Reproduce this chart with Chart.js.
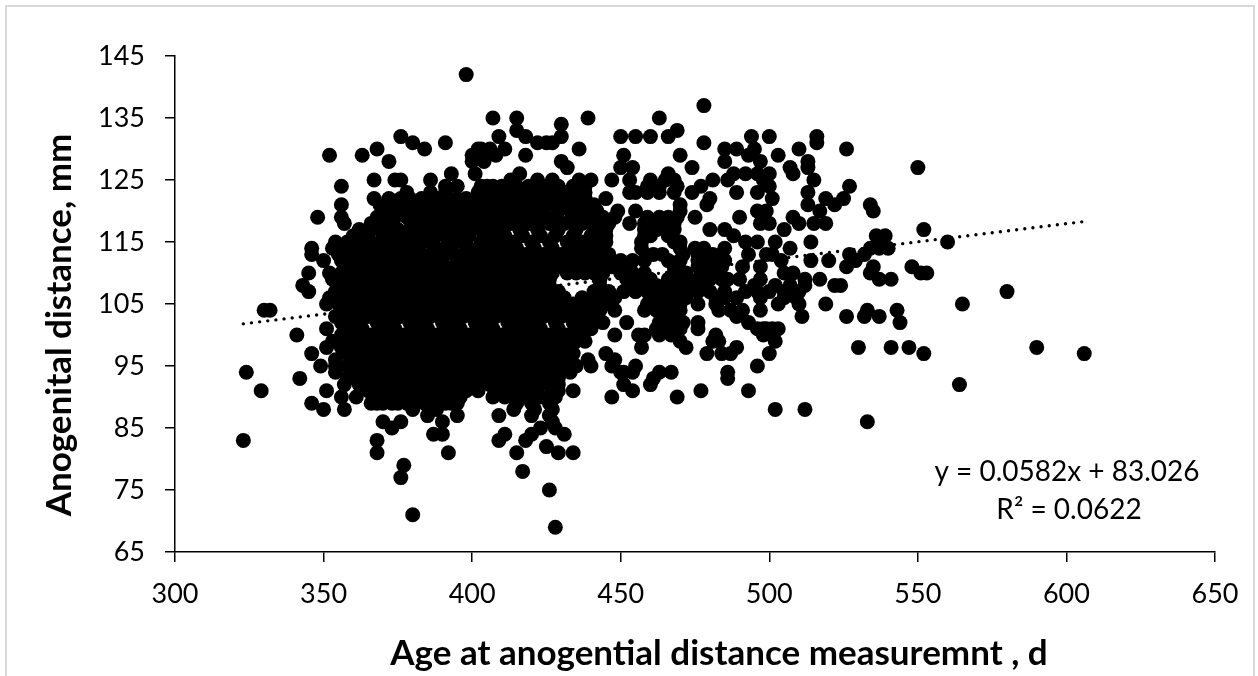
<!DOCTYPE html>
<html>
<head>
<meta charset="utf-8">
<title>Anogenital distance</title>
<script src="https://cdn.jsdelivr.net/npm/chart.js@4"></script>
<style>
  html, body { margin: 0; padding: 0; background: #fff; overflow: hidden; }
  #wrap { position: relative; width: 1258px; height: 676px; overflow: hidden; }
  #frame { position: absolute; left: 5px; top: 5px; width: 1246px; height: 700px; border: 2px solid #d9d9d9; }
  canvas { position: absolute; left: 0; top: 0; }
</style>
</head>
<body>
<div id="wrap">
  <div id="frame"></div>
  <canvas id="chart" width="1258" height="676"></canvas>
</div>
<script>
// axis ticks
const xTicks = [300, 350, 400, 450, 500, 550, 600, 650];
const yTicks = [65, 75, 85, 95, 105, 115, 125, 135, 145];

const distanceLevels = [142, 137, 135, 134, 133, 132, 131, 130, 129, 128, 127, 126, 125, 124, 123, 122, 121, 120, 119, 118, 117, 116, 115, 114, 113, 112, 111, 110, 109, 108, 107, 106, 105, 104, 103, 102, 101, 100, 99, 98, 97, 96, 95, 94, 93, 92, 91, 90, 89, 88, 87, 86, 85, 84, 83, 82, 81, 79, 78, 77, 75, 71, 69];
const agesAtLevel = [
  [398],
  [478],
  [407, 415, 439, 463],
  [430],
  [415, 469],
  [376, 409, 418, 430, 450, 455, 460, 466, 494, 500, 516],
  [380, 391, 422, 425, 427, 478, 516],
  [368, 384, 402, 403, 406, 411, 436, 485, 489, 495, 510, 526],
  [352, 363, 400, 405, 408, 418, 451, 470, 493, 503],
  [372, 400, 404, 430, 485, 497, 513],
  [432, 450, 454, 474, 507, 513, 550],
  [393, 401, 416, 466, 488, 492, 496, 500, 508],
  [367, 374, 376, 386, 413, 422, 427, 436, 440, 447, 453, 460, 465, 468, 481, 486, 498, 515],
  [356, 391, 395, 403, 405, 407, 410, 415, 419, 424, 429, 434, 438, 459, 463, 469, 477, 500, 527],
  [378, 386, 391, 402, 407, 412, 416, 420, 424, 428, 431, 435, 438, 453, 455, 459, 463, 468, 474, 489, 496, 513],
  [367, 372, 376, 379, 383, 388, 392, 395, 398, 403, 408, 412, 416, 420, 424, 428, 434, 438, 445, 480, 501, 519, 525],
  [356, 369, 373, 377, 382, 385, 389, 393, 395, 398, 401, 405, 408, 412, 416, 419, 422, 425, 428, 432, 435, 441, 470, 479, 513, 522, 534],
  [371, 375, 380, 383, 386, 390, 394, 397, 401, 405, 409, 413, 418, 421, 424, 429, 433, 436, 438, 442, 449, 455, 470, 496, 499, 517, 535],
  [348, 356, 368, 371, 374, 378, 383, 387, 391, 397, 400, 404, 408, 411, 415, 418, 421, 424, 428, 436, 440, 444, 448, 459, 463, 466, 469, 475, 490, 508],
  [357, 366, 372, 381, 387, 393, 400, 407, 413, 419, 426, 431, 434, 437, 443, 446, 453, 458, 460, 465, 468, 497, 500, 510, 515, 519],
  [362, 369, 375, 379, 385, 390, 396, 403, 409, 416, 422, 429, 435, 441, 445, 458, 462, 465, 468, 480, 485, 505, 552],
  [360, 365, 371, 377, 383, 388, 394, 399, 405, 411, 417, 423, 428, 434, 440, 445, 458, 460, 466, 488, 536, 539],
  [354, 358, 364, 369, 374, 380, 386, 392, 397, 403, 408, 414, 420, 426, 432, 437, 442, 445, 457, 468, 470, 492, 496, 502, 514, 560],
  [346, 353, 357, 362, 367, 372, 377, 382, 388, 393, 399, 404, 410, 415, 421, 427, 433, 438, 444, 457, 470, 475, 478, 485, 507, 534, 537, 540],
  [346, 355, 360, 365, 370, 375, 381, 386, 391, 397, 402, 407, 413, 418, 424, 430, 435, 441, 446, 461, 464, 471, 476, 481, 484, 493, 499, 501, 527, 532],
  [350, 356, 362, 367, 372, 378, 384, 389, 395, 400, 405, 411, 416, 422, 427, 433, 439, 444, 450, 454, 458, 466, 470, 476, 480, 485, 504, 514, 520, 529],
  [358, 364, 369, 374, 380, 385, 391, 396, 402, 408, 413, 419, 424, 430, 433, 436, 439, 442, 447, 450, 453, 468, 476, 480, 484, 491, 497, 526, 535, 548],
  [345, 352, 356, 361, 366, 371, 377, 382, 388, 393, 399, 404, 410, 415, 421, 427, 432, 435, 438, 441, 444, 450, 454, 458, 468, 472, 478, 482, 505, 508, 534, 551, 553],
  [353, 358, 363, 368, 374, 379, 385, 390, 396, 401, 407, 412, 418, 423, 426, 443, 452, 456, 460, 466, 472, 476, 480, 484, 486, 490, 497, 512, 517, 537, 541],
  [343, 357, 361, 366, 371, 376, 382, 387, 393, 398, 404, 409, 415, 420, 426, 443, 453, 458, 462, 466, 470, 474, 478, 495, 502, 507, 512, 522, 524],
  [345, 354, 359, 364, 369, 374, 379, 384, 390, 395, 401, 406, 412, 417, 423, 429, 441, 446, 451, 455, 459, 464, 468, 472, 476, 480, 485, 492, 496, 500, 505, 510, 580],
  [352, 356, 361, 367, 372, 377, 382, 388, 393, 398, 404, 409, 414, 420, 426, 431, 437, 443, 448, 462, 466, 470, 472, 482, 485, 489, 497, 505, 509],
  [351, 355, 358, 364, 369, 374, 380, 385, 391, 396, 401, 407, 412, 418, 423, 428, 434, 440, 445, 459, 464, 467, 470, 476, 482, 503, 510, 519, 565],
  [330, 332, 357, 362, 367, 372, 378, 383, 388, 394, 399, 405, 410, 416, 421, 426, 432, 438, 443, 448, 458, 462, 466, 470, 483, 487, 491, 497, 533, 543],
  [354, 360, 365, 370, 376, 381, 386, 392, 397, 403, 408, 414, 419, 424, 430, 436, 441, 464, 468, 489, 511, 526, 532, 537],
  [356, 362, 368, 373, 379, 384, 390, 395, 401, 406, 412, 417, 422, 428, 434, 439, 444, 452, 463, 467, 471, 476, 493, 544],
  [351, 358, 363, 369, 374, 380, 385, 391, 396, 402, 407, 413, 418, 423, 429, 435, 440, 462, 466, 470, 476, 496, 498, 499, 501, 503],
  [341, 356, 361, 366, 371, 377, 382, 388, 393, 399, 404, 410, 415, 421, 426, 432, 437, 448, 456, 458, 463, 467, 482, 498, 501],
  [353, 358, 363, 369, 374, 380, 385, 390, 396, 401, 407, 412, 418, 424, 429, 435, 438, 470, 481, 483, 502],
  [351, 356, 361, 367, 372, 377, 383, 388, 394, 399, 405, 410, 416, 421, 427, 432, 457, 472, 489, 530, 541, 547, 590],
  [346, 358, 364, 369, 375, 380, 386, 391, 397, 402, 408, 413, 419, 424, 430, 434, 445, 479, 484, 487, 500, 552, 606],
  [354, 361, 366, 372, 377, 383, 388, 394, 399, 405, 410, 416, 421, 427, 431, 439, 448],
  [349, 354, 358, 364, 369, 375, 380, 386, 391, 397, 402, 408, 413, 419, 424, 430, 435, 440, 447, 455, 496],
  [324, 354, 361, 367, 372, 378, 383, 389, 394, 400, 405, 411, 416, 422, 428, 433, 450, 451, 454, 463, 467, 486],
  [342, 358, 364, 369, 372, 375, 378, 380, 383, 386, 389, 392, 395, 397, 400, 403, 405, 408, 411, 414, 417, 420, 423, 426, 429, 461, 486],
  [357, 362, 367, 373, 378, 384, 389, 395, 400, 406, 412, 418, 423, 429, 451, 460, 564],
  [329, 351, 365, 370, 376, 381, 387, 393, 398, 402, 410, 416, 421, 427, 429, 434, 454, 477, 493],
  [356, 361, 367, 370, 372, 375, 378, 381, 384, 387, 390, 393, 396, 407, 411, 414, 417, 420, 423, 426, 428, 447, 469],
  [346, 366, 368, 370, 373, 375, 378, 381, 384, 386, 389, 391, 393, 395, 415, 420, 426],
  [350, 357, 380, 388, 414, 421, 427, 502, 512],
  [385, 395, 409, 420, 426],
  [370, 376, 390, 427, 533],
  [373, 423, 428],
  [387, 390, 411, 420, 431],
  [323, 368, 409, 418],
  [425],
  [368, 392, 415, 429, 434],
  [377],
  [417],
  [376],
  [426],
  [380],
  [428]
];

// ends of the fitted line
const trendAges = [323, 606];
const trendDistances = [101.8, 118.3];

const xAxisTitle = 'Age at anogential distance measuremnt , d';
const yAxisTitle = 'Anogenital distance, mm';
const equationLines = ['y = 0.0582x + 83.026', 'R² = 0.0622'];

const points = [];
distanceLevels.forEach((level, i) => {
  agesAtLevel[i].forEach(age => points.push({ x: age, y: level }));
});
const trend = trendAges.map((age, i) => ({ x: age, y: trendDistances[i] }));

// axis titles sit off-centre in the original, and the equation is free text
const textPlugin = {
  id: 'freeText',
  afterDraw(chart) {
    const ctx = chart.ctx;
    ctx.save();
    ctx.fillStyle = '#000';
    ctx.textAlign = 'center';
    ctx.textBaseline = 'middle';
    ctx.font = 'bold 35px Lato';
    ctx.fillText(xAxisTitle, 719, 654);
    ctx.translate(60, 325);
    ctx.rotate(-Math.PI / 2);
    ctx.fillText(yAxisTitle, 0, 0);
    ctx.setTransform(1, 0, 0, 1, 0, 0);
    ctx.font = '28px Lato';
    ctx.fillText(equationLines[0], 1067, 472);
    ctx.fillText(equationLines[1], 1069, 510);
    ctx.restore();
  }
};

new Chart(document.getElementById('chart'), {
  type: 'scatter',
  data: {
    datasets: [
      {
        label: 'Cows',
        data: points,
        backgroundColor: '#000',
        borderWidth: 0,
        pointRadius: 7.5,
        order: 1
      },
      {
        type: 'line',
        label: 'Linear',
        data: trend,
        borderColor: '#000',
        borderWidth: 3.4,
        borderDash: [0, 8.2],
        borderCapStyle: 'round',
        pointRadius: 0,
        fill: false,
        order: 2
      }
    ]
  },
  options: {
    responsive: false,
    animation: false,
    layout: { padding: { top: 56, right: 43, left: 0, bottom: 0 } },
    plugins: { legend: { display: false }, tooltip: { enabled: false } },
    scales: {
      x: {
        type: 'linear',
        min: 300,
        max: 650,
        afterFit: s => { s.height = 124; },
        afterBuildTicks: s => { s.ticks = xTicks.map(v => ({ value: v })); },
        border: { color: '#000', width: 1.5 },
        grid: { drawOnChartArea: false, drawTicks: true, tickLength: 10, color: '#000', lineWidth: 1.5 },
        ticks: { color: '#000', font: { family: 'Lato', size: 27 }, padding: 16, maxRotation: 0 }
      },
      y: {
        min: 65,
        max: 145,
        afterFit: s => { s.width = 175; },
        afterBuildTicks: s => { s.ticks = yTicks.map(v => ({ value: v })); },
        border: { color: '#000', width: 1.5 },
        grid: { drawOnChartArea: false, drawTicks: true, tickLength: 10, color: '#000', lineWidth: 1.5 },
        ticks: { color: '#000', font: { family: 'Lato', size: 27 }, padding: 20 }
      }
    }
  },
  plugins: [textPlugin]
});
</script>
</body>
</html>
